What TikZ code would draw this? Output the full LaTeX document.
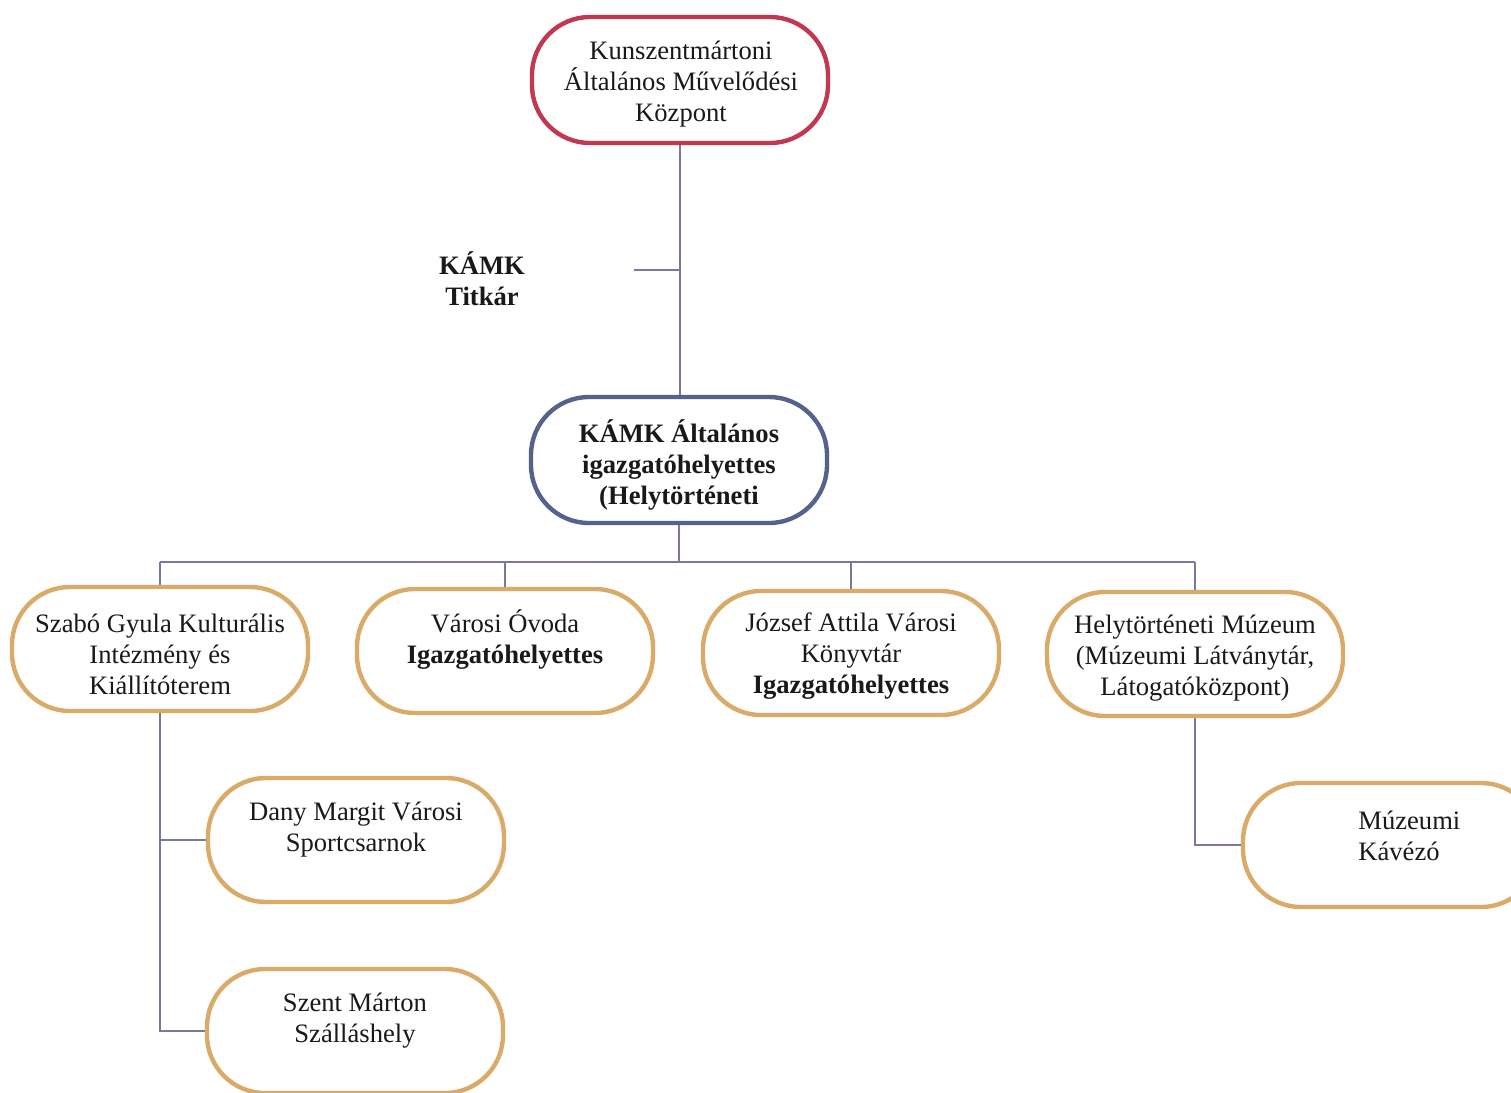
\documentclass[tikz,border=0pt]{standalone}
\usepackage{fontspec}
\setmainfont{Liberation Serif}
\usetikzlibrary{calc}
\definecolor{redb}{RGB}{192,57,79}
\definecolor{blueb}{RGB}{86,98,142}
\definecolor{orangeb}{RGB}{218,170,104}
\definecolor{connc}{RGB}{118,122,158}
\begin{document}
\begin{tikzpicture}[x=0.5pt,y=-0.5pt,
  box/.style={draw, line width=2.2pt, rounded corners=29pt, fill=white,
    minimum width=148pt, minimum height=62pt, inner sep=0pt},
  redbox/.style={box, draw=redb, minimum height=63pt},
  bluebox/.style={box, draw=blueb, minimum height=63pt},
  orbox/.style={box, draw=orangeb},
  txt/.style={font=\fontsize{13.3}{15.5}\selectfont, align=center, inner sep=0pt, text=black!90},
  conn/.style={draw=connc, line width=0.9pt}]
\useasboundingbox (0,0) rectangle (1511,1093);
\clip (0,0) rectangle (1511,1093);
\fill[white] (0,0) rectangle (1511,1093);

% shapes
\node[redbox] (top) at (680,80) {};
\node[bluebox] (mid) at (679,460) {};
\node[orbox] (b1) at (160,649) {};
\node[orbox] (b2) at (505,651) {};
\node[orbox] (b3) at (851,653) {};
\node[orbox] (b4) at (1195,654) {};
\node[orbox] (b5) at (356,840) {};
\node[orbox] (b6) at (355,1031) {};
\node[orbox] (b7) at (1391,845) {};

% connectors
\coordinate (tk) at (634,270);
\coordinate (bus) at (679,562);
\draw[conn] (top.south) -- (top.south |- mid.north);
\draw[conn] (tk) -- (tk -| top.south);
\draw[conn] (mid.south) -- (mid.south |- bus);
\draw[conn] (b1.north |- bus) -- (b4.north |- bus);
\draw[conn] (b1.north) -- (b1.north |- bus);
\draw[conn] (b2.north) -- (b2.north |- bus);
\draw[conn] (b3.north) -- (b3.north |- bus);
\draw[conn] (b4.north) -- (b4.north |- bus);
\draw[conn] (b1.south) |- (b5.west);
\draw[conn] (b1.south) |- (b6.west);
\draw[conn] (b4.south) |- (b7.west);

% texts
\node[txt] (ttop) at (681,84) {Kunszentmártoni\\Általános Művelődési\\Központ};
\node[txt, font=\fontsize{13.3}{15.5}\selectfont\bfseries] (ttit) at (482,279) {KÁMK\\Titkár};
\node[txt, font=\fontsize{13.3}{15.5}\selectfont\bfseries] (tmid) at (679,465) {KÁMK Általános\\igazgatóhelyettes\\(Helytörténeti};
\node[txt] (t1) at (160,654) {Szabó Gyula Kulturális\\Intézmény és\\Kiállítóterem};
\node[txt] (t2) at (505,640) {Városi Óvoda\\\textbf{Igazgatóhelyettes}};
\node[txt] (t3) at (851,656) {József Attila Városi\\Könyvtár\\\textbf{Igazgatóhelyettes}};
\node[txt] (t4) at (1195,658) {Helytörténeti Múzeum\\(Múzeumi Látványtár,\\Látogatóközpont)};
\node[txt] (t5) at (356,830) {Dany Margit Városi\\Sportcsarnok};
\node[txt] (t6) at (355,1021) {Szent Márton\\Szálláshely};
\node[txt, align=left, anchor=west] (t7) at (1358,836) {Múzeumi\\Kávézó};
\end{tikzpicture}
\end{document}
